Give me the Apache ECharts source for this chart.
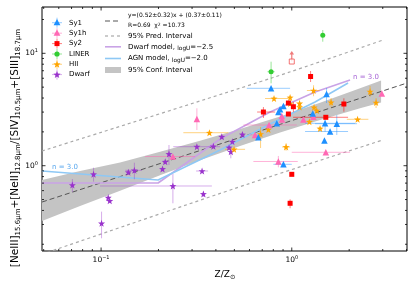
<!DOCTYPE html>
<html><head><meta charset="utf-8">
<script src="https://cdn.jsdelivr.net/npm/echarts@6/dist/echarts.min.js"></script>
<style>html,body{margin:0;padding:0;background:#fff}#c{width:415px;height:291px}</style>
</head><body><div id="c"></div>
<script>
// ---- data rows: [x, y, xLow, xHigh, yLow, yHigh] (null = no error bar) ----
const sy1 = [
  [0.779, 4.883, 0.581, 0.980, null, null],
  [0.668, 1.789, null, null, null, null],
  [0.835, 2.384, null, null, null, null],
  [0.8505, 3.004, null, null, null, null],
  [0.868, 3.176, null, null, null, null],
  [0.904, 3.398, null, null, null, null],
  [1.288, 2.913, null, null, null, null],
  [1.522, 4.344, null, null, 3.612, 4.913],
  [1.495, 2.384, 1.174, 2.147, 2.007, 2.729],
  [1.722, 2.364, 1.325, 2.20, 1.876, 2.826],
  [1.588, 2.015, 1.174, 1.973, null, null],
  [1.483, 1.676, null, null, null, null],
  [0.904, 1.029, 0.801, 1.0, null, null]
];
const sy1h = [
  [0.318, 2.603, null, null, 2.078, 3.241],
  [0.238, 1.207, 0.170, 0.311, null, null],
  [0.642, 1.876, 0.60, 0.69, null, null],
  [0.760, 2.302, 0.558, 1.062, null, null],
  [0.889, 2.576, null, null, null, null],
  [0.886, 2.768, null, null, null, null],
  [1.150, 2.576, null, null, null, null],
  [1.298, 2.729, null, null, null, null],
  [2.965, 4.388, null, null, null, null],
  [1.508, 1.316, 1.0, 2.021, null, null],
  [0.8505, 1.090, 0.629, 1.075, 0.968, 1.220]
];
const sy2 = [
  [0.710, 3.004, 0.658, 0.818, 2.657, 3.328],
  [0.960, 3.612, null, null, null, null],
  [1.0195, 3.349, null, null, 3.0, 3.7],
  [0.960, 2.884, null, null, null, null],
  [1.255, 6.218, null, null, 5.556, 6.959],
  [1.508, 2.696, 1.016, 1.973, null, null],
  [1.876, 3.54, null, null, 3.022, 3.978],
  [1.0, 0.838, null, null, null, null],
  [0.980, 0.463, 0.955, 1.005, 0.418, 0.502]
];
// lower limit: [x, y, arrow tip y]
const sy2Limit = [[1.0, 8.45, 10.5]];
const liner = [
  [0.779, 6.861, 0.746, 0.813, 5.409, 8.422],
  [1.454, 14.46, null, null, 12.69, 16.12]
];
const hii = [
  [0.370, 1.966, 0.270, 0.465, null, null],
  [0.498, 1.399, 0.447, 0.569, null, null],
  [0.686, 1.914, null, null, 1.437, 2.21],
  [0.754, 2.099, null, null, null, null],
  [0.807, 3.962, 0.724, 0.960, null, null],
  [0.980, 4.044, null, null, null, null],
  [1.099, 3.591, null, null, null, null],
  [1.099, 3.328, null, null, null, null],
  [1.301, 4.667, 1.2, 1.4, 4.15, 5.2],
  [1.309, 3.308, null, null, null, null],
  [1.352, 3.098, null, null, null, null],
  [1.237, 2.463, null, null, null, null],
  [1.407, 2.143, null, null, null, null],
  [1.607, 3.665, null, null, 3.3, 4.0],
  [2.213, 2.587, 1.943, 2.522, null, null],
  [2.574, 4.572, null, null, 4.111, 5.118],
  [2.767, 3.65, null, null, 3.261, 4.003],
  [0.9335, 1.467, 0.89, 0.98, 1.36, 1.58],
  [0.980, 3.575, null, null, null, null]
];
const dwarf = [
  [0.0707, 0.673, null, null, 0.583, 0.761],
  [0.0913, 0.840, null, null, 0.721, 0.960],
  [0.109, 0.521, null, null, null, null],
  [0.111, 0.487, null, null, null, null],
  [0.1006, 0.307, null, null, 0.226, 0.390],
  [0.139, 0.875, null, null, null, null],
  [0.1495, 0.910, 0.134, 0.164, 0.757, 1.063],
  [0.210, 0.935, null, null, null, null],
  [0.217, 1.085, null, null, null, null],
  [0.227, 1.271, null, null, 1.014, 1.528],
  [0.238, 0.660, 0.0988, 0.381, 0.463, 0.844],
  [0.318, 1.476, 0.239, 0.421, null, null],
  [0.3385, 0.897, 0.315, 0.364, null, null],
  [0.344, 0.560, null, null, 0.53, 0.59],
  [0.388, 1.488, null, null, null, null],
  [0.4295, 1.811, null, null, null, null],
  [0.488, 1.635, null, null, null, null],
  [0.469, 1.452, null, null, null, null],
  [0.479, 1.332, null, null, 1.164, 1.476],
  [0.551, 1.895, null, null, null, null]
];
// fit line and intervals
const fitLine = [[0.049, 0.475], [4.02, 5.44]];
const predUpper = [[0.049, 1.351], [0.798, 6.09], [3.01, 13.13]];
const predLower = [[0.049, 0.163], [0.6045, 0.697], [3.0, 1.693]];
const bandX  = [0.049, 0.0776, 0.1258, 0.2039, 0.3304, 0.5356, 0.8682, 1.407, 2.281, 2.94];
const bandLo = [0.322, 0.437, 0.600, 0.823, 1.117, 1.497, 1.978, 2.551, 3.241, 3.650];
const bandHi = [0.746, 0.897, 1.066, 1.330, 1.669, 2.121, 2.745, 3.627, 4.883, 5.728];
// photoionisation model tracks
const dwarfModel = [[0.049, 0.702], [0.199, 0.702], [0.4207, 1.728], [0.7697, 3.004], [1.325, 4.525], [2.021, 5.788]];
const agnModel = [[0.049, 0.897], [0.199, 0.746], [0.4207, 1.379], [0.7697, 2.350], [1.325, 3.687], [1.973, 5.442]];
// ticks
const xMajorTicks = [0.1, 1];
const xMinorTicks = [0.05, 0.06, 0.07, 0.08, 0.09, 0.2, 0.3, 0.4, 0.5, 0.6, 0.7, 0.8, 0.9, 2, 3, 4];
const yMajorTicks = [1, 10];
const yMinorTicks = [0.2, 0.3, 0.4, 0.5, 0.6, 0.7, 0.8, 0.9, 2, 3, 4, 5, 6, 7, 8, 9, 20];

// ---- styling ----
const FONT = 'DejaVu Sans';
const C = {
  sy1: '#1e90ff', sy1h: '#ff69b4', sy2: '#ff0000', liner: '#32cd32', hii: '#ffa500', dwarf: '#9932cc'
};
const E = {
  sy1: 'rgba(30,144,255,0.45)', sy1h: 'rgba(255,105,180,0.5)', sy2: 'rgba(255,0,0,0.5)',
  liner: 'rgba(50,205,50,0.5)', hii: 'rgba(255,165,0,0.5)', dwarf: 'rgba(153,50,204,0.4)'
};
const STAR = 'path://M0,-10 L2.35,-3.24 L9.51,-3.09 L3.80,1.24 L5.88,8.09 L0,4 L-5.88,8.09 L-3.80,1.24 L-9.51,-3.09 L-2.35,-3.24 Z';

function fill(rows) {
  return rows.map(r => [r[0], r[1],
    r[2] == null ? r[0] : r[2], r[3] == null ? r[0] : r[3],
    r[4] == null ? r[1] : r[4], r[5] == null ? r[1] : r[5]]);
}
function errSeries(rows, color) {
  return {
    type: 'custom', z: 4, silent: true,
    dimensions: ['x', 'y', 'xlo', 'xhi', 'ylo', 'yhi'],
    encode: { x: 0, y: 1 },
    data: fill(rows),
    renderItem: function (params, api) {
      const x = api.value(0), y = api.value(1);
      const xlo = api.value(2), xhi = api.value(3), ylo = api.value(4), yhi = api.value(5);
      const ch = [];
      const st = { stroke: color, lineWidth: 1 };
      if (xlo !== xhi) {
        const a = api.coord([xlo, y]), b = api.coord([xhi, y]);
        ch.push({ type: 'line', shape: { x1: a[0], y1: a[1], x2: b[0], y2: b[1] }, style: st });
      }
      if (ylo !== yhi) {
        const a = api.coord([x, ylo]), b = api.coord([x, yhi]);
        ch.push({ type: 'line', shape: { x1: a[0], y1: a[1], x2: b[0], y2: b[1] }, style: st });
      }
      return { type: 'group', children: ch };
    }
  };
}
function scatterSeries(rows, symbol, size, color) {
  return {
    type: 'scatter', z: 5, symbol: symbol, symbolSize: size,
    itemStyle: { color: color, opacity: 1 },
    data: rows.map(r => [r[0], r[1]])
  };
}
function tickSeries(isX) {
  const data = isX
    ? xMajorTicks.map(v => [v, 1, 1]).concat(xMinorTicks.map(v => [v, 1, 0]))
    : yMajorTicks.map(v => [1, v, 1]).concat(yMinorTicks.map(v => [1, v, 0]));
  return {
    type: 'custom', z: 6, silent: true, encode: { x: 0, y: 1 }, data: data,
    renderItem: function (params, api) {
      const cs = params.coordSys;
      const len = api.value(2) ? 3.5 : 2;
      const st = { stroke: '#000', lineWidth: 0.8 };
      if (isX) {
        const px = api.coord([api.value(0), 1])[0];
        return { type: 'group', children: [
          { type: 'line', shape: { x1: px, y1: cs.y + cs.height, x2: px, y2: cs.y + cs.height - len }, style: st },
          { type: 'line', shape: { x1: px, y1: cs.y, x2: px, y2: cs.y + len }, style: st }] };
      } else {
        const py = api.coord([1, api.value(1)])[1];
        return { type: 'group', children: [
          { type: 'line', shape: { x1: cs.x, y1: py, x2: cs.x + len, y2: py }, style: st },
          { type: 'line', shape: { x1: cs.x + cs.width, y1: py, x2: cs.x + cs.width - len, y2: py }, style: st }] };
      }
    }
  };
}
function supFmt(v) {
  const l = Math.log10(v), e = Math.round(l);
  if (Math.abs(l - e) > 1e-6) return '';
  return '{b|10}{s|' + (e < 0 ? '\u2212' + (-e) : e) + '}';
}
const labelRich = {
  b: { fontSize: 7.5, fontFamily: FONT, color: '#000', lineHeight: 10 },
  s: { fontSize: 5, fontFamily: FONT, color: '#000', verticalAlign: 'top', lineHeight: 6 }
};

// ---- legend graphics ----
function starPts(cx, cy, R) {
  const p = [];
  for (let i = 0; i < 10; i++) {
    const a = -Math.PI / 2 + i * Math.PI / 5, r = i % 2 ? R * 0.42 : R;
    p.push([cx + r * Math.cos(a), cy + r * Math.sin(a)]);
  }
  return p;
}
function legendMarker(kind, color, ecolor, cx, cy) {
  const ch = [
    { type: 'line', shape: { x1: cx - 5, y1: cy, x2: cx + 5, y2: cy }, style: { stroke: ecolor, lineWidth: 1 } },
    { type: 'line', shape: { x1: cx, y1: cy - 5, x2: cx, y2: cy + 5 }, style: { stroke: ecolor, lineWidth: 1 } }
  ];
  if (kind === 'tri') ch.push({ type: 'polygon', shape: { points: [[cx, cy - 3.6], [cx + 3.4, cy + 2.6], [cx - 3.4, cy + 2.6]] }, style: { fill: color } });
  if (kind === 'rect') ch.push({ type: 'rect', shape: { x: cx - 2.5, y: cy - 2.5, width: 5, height: 5 }, style: { fill: color } });
  if (kind === 'circle') ch.push({ type: 'circle', shape: { cx: cx, cy: cy, r: 2.6 }, style: { fill: color } });
  if (kind === 'star') ch.push({ type: 'polygon', shape: { points: starPts(cx, cy + 0.3, 3.8) }, style: { fill: color } });
  return ch;
}
const legendRows = [
  ['tri', 'sy1', 'Sy1', 22.7], ['tri', 'sy1h', 'Sy1h', 33.2], ['rect', 'sy2', 'Sy2', 43.6],
  ['circle', 'liner', 'LINER', 54], ['star', 'hii', 'HII', 64.3], ['star', 'dwarf', 'Dwarf', 74.6]
];
const graphics = [];
legendRows.forEach(r => {
  legendMarker(r[0], C[r[1]], E[r[1]], 57, r[3]).forEach(g => graphics.push(g));
  graphics.push({ type: 'text', x: 69, y: r[3], style: { text: r[2], fontSize: 7, fontFamily: FONT, fill: '#000', align: 'left', verticalAlign: 'middle' } });
});
const txt = (x, y, t, fs, rich) => ({ type: 'text', x: x, y: y, style: { text: t, fontSize: fs, fontFamily: FONT, fill: '#000', align: 'left', verticalAlign: 'middle', rich: rich } });
graphics.push(
  { type: 'line', shape: { x1: 105, y1: 21, x2: 121, y2: 21 }, style: { stroke: '#555', lineWidth: 1, lineDash: [5, 3] } },
  txt(128, 15.7, 'y=(0.52\u00b10.32)x + (0.37\u00b10.11)', 6),
  txt(128, 25.5, '{a|R=0.69  \u03c7}{s|2}{a| =10.73}', 6, { a: { fontSize: 6, fontFamily: FONT, fill: '#000' }, s: { fontSize: 4.5, fontFamily: FONT, verticalAlign: 'top', lineHeight: 5 } }),
  { type: 'line', shape: { x1: 105, y1: 36, x2: 121, y2: 36 }, style: { stroke: '#aaa', lineWidth: 1.2, lineDash: [3, 3] } },
  txt(128, 36, '95% Pred. Interval', 7),
  { type: 'line', shape: { x1: 105, y1: 46.8, x2: 121, y2: 46.8 }, style: { stroke: '#c9a3e6', lineWidth: 1.6 } },
  txt(128, 46.8, '{a|Dwarf model, }{b|logU}{a|=\u22122.5}', 7, { a: { fontSize: 7, fontFamily: FONT, lineHeight: 9 }, b: { fontSize: 5.8, fontFamily: FONT, verticalAlign: 'bottom', lineHeight: 7 } }),
  { type: 'line', shape: { x1: 105, y1: 58.5, x2: 121, y2: 58.5 }, style: { stroke: '#8ec8f5', lineWidth: 1.6 } },
  txt(128, 58.5, '{a|AGN model, }{b|logU}{a|=\u22122.0}', 7, { a: { fontSize: 7, fontFamily: FONT, lineHeight: 9 }, b: { fontSize: 5.8, fontFamily: FONT, verticalAlign: 'bottom', lineHeight: 7 } }),
  { type: 'rect', shape: { x: 105, y: 67, width: 16, height: 6 }, style: { fill: '#c4c4c4' } },
  txt(128, 70, '95% Conf. Interval', 7),
  { type: 'text', x: 52, y: 167.5, style: { text: 'n = 3.0', fontSize: 7, fontFamily: FONT, fill: '#5aa8ee', align: 'left', verticalAlign: 'middle' } },
  { type: 'text', x: 353, y: 77, style: { text: 'n = 3.0', fontSize: 7, fontFamily: FONT, fill: '#a766d6', align: 'left', verticalAlign: 'middle' } },
  { type: 'text', x: 225, y: 275, style: { text: '{m|Z/Z}{s|\u2299}', rich: { m: { fontSize: 9, fontFamily: FONT, fill: '#000', lineHeight: 12 }, s: { fontSize: 6.5, fontFamily: FONT, fill: '#000', verticalAlign: 'bottom', lineHeight: 8 } }, align: 'center', verticalAlign: 'middle' } },
  { type: 'text', x: 15, y: 148, rotation: Math.PI / 2, style: {
      text: '{m|[NeIII]}{s|15.6\u03bcm}{m|+[NeII]}{s|12.8\u03bcm}{m|/[SIV]}{s|10.5\u03bcm}{m|+[SIII]}{s|18.7\u03bcm}',
      rich: { m: { fontSize: 10.5, fontFamily: FONT, fill: '#000', lineHeight: 13 }, s: { fontSize: 7, fontFamily: FONT, fill: '#000', verticalAlign: 'bottom', lineHeight: 9 } },
      align: 'center', verticalAlign: 'middle' } }
);

const chart = echarts.init(document.getElementById('c'), null, { renderer: 'canvas' });
chart.setOption({
  animation: false,
  backgroundColor: '#fff',
  textStyle: { fontFamily: FONT },
  grid: { left: 42, right: 8, top: 7, bottom: 40, show: true, borderColor: '#000', borderWidth: 1, backgroundColor: 'transparent' },
  xAxis: {
    type: 'log', logBase: 10, min: 0.049, max: 4.02,
    axisLine: { show: false }, axisTick: { show: false }, splitLine: { show: false },
    axisLabel: { formatter: supFmt, rich: labelRich, margin: 4 }
  },
  yAxis: {
    type: 'log', logBase: 10, min: 0.1742, max: 25.83,
    axisLine: { show: false }, axisTick: { show: false }, splitLine: { show: false },
    axisLabel: { formatter: supFmt, rich: labelRich, margin: 4 }
  },
  graphic: graphics,
  series: [
    {
      type: 'custom', z: 1, silent: true, encode: { x: 0, y: 1 },
      data: bandX.map((x, i) => [x, bandLo[i], bandHi[i]]),
      renderItem: function (params, api) {
        if (params.dataIndex !== 0) return null;
        const pts = [];
        for (let i = 0; i < bandX.length; i++) pts.push(api.coord([bandX[i], bandHi[i]]));
        for (let i = bandX.length - 1; i >= 0; i--) pts.push(api.coord([bandX[i], bandLo[i]]));
        return { type: 'polygon', shape: { points: pts }, style: { fill: '#c4c4c4' } };
      }
    },
    { type: 'line', z: 2, data: predUpper, symbol: 'none', smooth: 0.3, lineStyle: { color: '#aaa', width: 1.2, type: [3, 3] } },
    { type: 'line', z: 2, data: predLower, symbol: 'none', smooth: 0.3, lineStyle: { color: '#aaa', width: 1.2, type: [3, 3] } },
    { type: 'line', z: 3, data: fitLine, symbol: 'none', lineStyle: { color: '#555', width: 1, type: [5, 3] } },
    { type: 'line', z: 3, data: dwarfModel, symbol: 'none', lineStyle: { color: '#c9a3e6', width: 1.6 } },
    { type: 'line', z: 3, data: agnModel, symbol: 'none', lineStyle: { color: '#8ec8f5', width: 1.6 } },
    errSeries(dwarf, E.dwarf), errSeries(hii, E.hii), errSeries(liner, E.liner),
    errSeries(sy2, E.sy2), errSeries(sy1h, E.sy1h), errSeries(sy1, E.sy1),
    {
      type: 'custom', z: 4, silent: true, encode: { x: 0, y: 1 }, data: sy2Limit,
      renderItem: function (params, api) {
        const a = api.coord([api.value(0), api.value(1)]), b = api.coord([api.value(0), api.value(2)]);
        return { type: 'group', children: [
          { type: 'line', shape: { x1: a[0], y1: a[1], x2: b[0], y2: b[1] + 2 }, style: { stroke: '#f07a7a', lineWidth: 1.2 } },
          { type: 'polygon', shape: { points: [[b[0] - 2.3, b[1] + 3.5], [b[0] + 2.3, b[1] + 3.5], [b[0], b[1]]] }, style: { fill: '#f07a7a' } }
        ] };
      }
    },
    scatterSeries(dwarf, STAR, 7, C.dwarf),
    scatterSeries(hii, STAR, 7, C.hii),
    scatterSeries(liner, 'circle', 5, C.liner),
    scatterSeries(sy2, 'rect', 5, C.sy2),
    { type: 'scatter', z: 5, symbol: 'rect', symbolSize: 5, itemStyle: { color: '#fff', borderColor: '#f05050', borderWidth: 1 }, data: sy2Limit.map(r => [r[0], r[1]]) },
    scatterSeries(sy1h, 'triangle', 6.5, C.sy1h),
    scatterSeries(sy1, 'triangle', 6.5, C.sy1),
    tickSeries(true), tickSeries(false)
  ]
});
</script>
</body></html>
